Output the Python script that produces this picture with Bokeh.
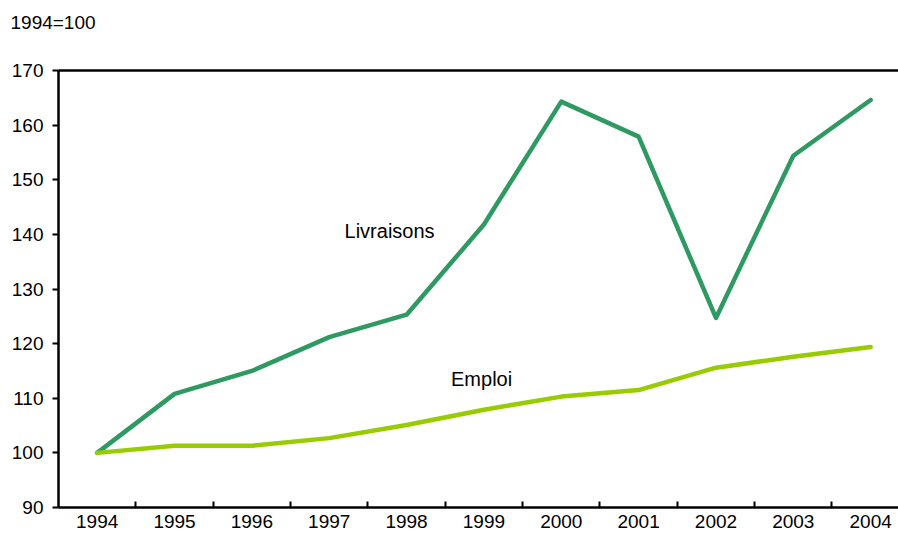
from bokeh.plotting import figure
from bokeh.models import FixedTicker, LinearAxis, Range1d, ColumnDataSource, Title
from bokeh.core.properties import value
from bokeh.embed import file_html
from bokeh.resources import INLINE

years = [1994, 1995, 1996, 1997, 1998, 1999, 2000, 2001, 2002, 2003, 2004]
livraisons = [100.0, 110.8, 115.0, 121.2, 125.3, 141.8, 164.3, 157.9, 124.7, 154.4, 164.6]
emploi = [100.0, 101.3, 101.3, 102.7, 105.1, 107.9, 110.3, 111.5, 115.6, 117.6, 119.4]
y_ticks = [90, 100, 110, 120, 130, 140, 150, 160, 170]
FONT = "Liberation Sans"

p = figure(width=898, height=540, frame_width=840, frame_height=437,
           min_border_left=58, min_border_right=0, min_border_top=70, min_border_bottom=33,
           x_range=Range1d(1993.5, 2004.36), y_range=Range1d(90, 170),
           output_backend="svg", toolbar_location=None)
p.outline_line_color = None
p.grid.visible = False
p.background_fill_color = "white"
p.title.text = ""
p.title.visible = False

p.line(years, livraisons, line_color="#2E9A62", line_width=4.5, line_join="round", line_cap="round")
p.line(years, emploi, line_color="#99CC00", line_width=4.5, line_join="round", line_cap="round")

src = ColumnDataSource(dict(x=[1997.78, 1998.97], y=[140.7, 113.6], t=["Livraisons", "Emploi"]))
p.text(x="x", y="y", text="t", source=src, text_font=value(FONT), text_font_size="20px",
       text_align="center", text_baseline="middle", text_color="black")

xa = p.xaxis[0]
xa.ticker = FixedTicker(ticks=years, minor_ticks=[y + 0.5 for y in years[:-1]])
xa.major_tick_in = 0
xa.major_tick_out = 0
xa.minor_tick_in = 6
xa.minor_tick_out = 0
xa.minor_tick_line_color = "black"
xa.minor_tick_line_width = 2
xa.axis_line_width = 2.5
xa.axis_line_color = "black"
xa.major_label_text_font = FONT
xa.major_label_text_font_size = "19px"
xa.major_label_text_color = "black"
xa.major_label_standoff = 7

ya = p.yaxis[0]
ya.ticker = FixedTicker(ticks=y_ticks)
ya.minor_tick_line_color = None
ya.major_tick_in = 0
ya.major_tick_out = 6
ya.major_tick_line_width = 2
ya.major_tick_line_color = "black"
ya.axis_line_width = 2.5
ya.axis_line_color = "black"
ya.major_label_text_font = FONT
ya.major_label_text_font_size = "19px"
ya.major_label_text_color = "black"
ya.major_label_standoff = 9

top = LinearAxis(ticker=FixedTicker(ticks=[]), major_tick_in=0, major_tick_out=0,
                 minor_tick_line_color=None, major_label_text_font_size="0px",
                 axis_line_width=2.5, axis_line_color="black")
p.add_layout(top, "above")

spacer = Title(text=" ", text_font_size="28px", standoff=0)
p.add_layout(spacer, "above")
main = Title(text="1994=100", align="left", offset=-48, text_font=FONT,
             text_font_size="19px", text_font_style="normal", text_color="black", standoff=10)
p.add_layout(main, "above")

open("out.html", "w").write(file_html(p, INLINE))
